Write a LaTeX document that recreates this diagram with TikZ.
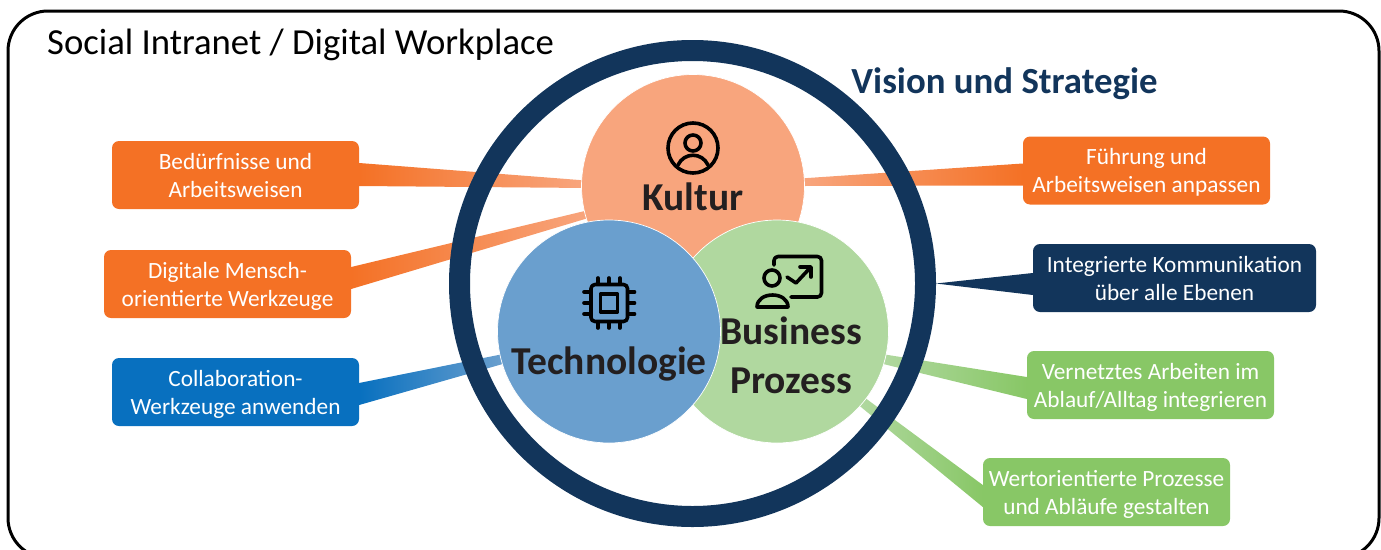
\documentclass[tikz,border=0pt]{standalone}
\usepackage{fontspec}
\setmainfont{Carlito}
\usetikzlibrary{calc, backgrounds}

\definecolor{navy}{HTML}{12355B}
\definecolor{orangebox}{HTML}{F47125}
\definecolor{orangesoft}{HTML}{F8A57D}
\definecolor{bluebox}{HTML}{0870BF}
\definecolor{bluesoft}{HTML}{6A9FCE}
\definecolor{greenbox}{HTML}{88C766}
\definecolor{greensoft}{HTML}{B0D89F}
\definecolor{inkdark}{HTML}{231F20}

\tikzset{
	box/.style={rectangle, rounded corners=7pt, minimum width=247pt, minimum height=68pt, inner sep=0pt,
		align=center, text=white, text depth=0pt, font=\fontsize{23.3}{28}\selectfont},
	topic/.style={circle, minimum size=223pt, inner sep=0pt, outer sep=0pt, draw=white, line width=0.7pt},
	topiclabel/.style={text=inkdark, align=center, font=\fontsize{39.5}{49}\selectfont\bfseries},
	icon/.style={draw=black, line width=3.6pt, line cap=round, line join=round}
}

\begin{document}
\begin{tikzpicture}
	[x=1pt, y=-1pt]
   \clip (0,0) rectangle (1381,549);
   \draw[line width=3pt, rounded corners=40pt] (8,11) rectangle (1379,558);

   \node[anchor=west, inner sep=0pt, font=\fontsize{36.7}{44}\selectfont] (title) at (47,45) {Social Intranet / Digital Workplace};
   \node[circle, draw=navy, line width=21pt, minimum size=466pt, inner sep=0pt] (ring) at (692.5,283.5) {};
   \node[text=navy, font=\fontsize{36.8}{44}\selectfont\bfseries] (vision) at (1004.5,84) {Vision und Strategie};

   \node[topic, fill=orangesoft] (kultur) at (693,186) {};
   \node[topic, fill=greensoft] (business) at (777,331.5) {};
   \node[topic, fill=bluesoft] (technologie) at (609,331.5) {};

   \node[topiclabel] (kulturlabel) at (693,197) {Kultur};
   \node[topiclabel] (businesslabel) at (791,355.5) {Business\\Prozess};
   \node[topiclabel] (technologielabel) at (609,364) {Technologie};

   \node[box, fill=orangebox] (beduerfnisse) at (235.5,175) {Bedürfnisse und\\Arbeitsweisen};
   \node[box, fill=orangebox] (digitale) at (227.5,284) {Digitale Mensch-\\orientierte Werkzeuge};
   \node[box, fill=bluebox] (collab) at (235.5,392) {Collaboration-\\Werkzeuge anwenden};
   \node[box, fill=orangebox] (fuehrung) at (1146.5,170.5) {Führung und\\Arbeitsweisen anpassen};
   \node[box, fill=navy, minimum width=283pt] (kommunikation) at (1174.5,278) {Integrierte Kommunikation\\über alle Ebenen};
   \node[box, fill=greenbox] (vernetzt) at (1150.5,385) {Vernetztes Arbeiten im\\Ablauf/Alltag integrieren};
   \node[box, fill=greenbox] (wert) at (1106.5,492) {Wertorientierte Prozesse\\und Abläufe gestalten};

   % tapered connectors
   \begin{scope}[on background layer]
    \path[left color=orangebox, right color=orangesoft]
    ($(beduerfnisse.east)+(0,-12)$) -- (kultur.177) -- (kultur.181) -- ($(beduerfnisse.east)+(0,11)$) -- cycle;
    \path[left color=orangebox, right color=orangesoft]
    ($(digitale.east)+(0,-17)$) -- (kultur.193.5) -- (kultur.197) -- ($(digitale.east)+(0,5)$) -- cycle;
    \path[left color=bluebox, right color=bluesoft]
    ($(collab.east)+(0,-9)$) -- (technologie.192) -- (technologie.197) -- ($(collab.east)+(0,13)$) -- cycle;
    \path[right color=orangebox, left color=orangesoft]
    ($(fuehrung.west)+(0,-7)$) -- (kultur.4) -- (kultur.0) -- ($(fuehrung.west)+(0,15)$) -- cycle;
    \path[fill=navy]
    ($(kommunikation.west)+(0,-5)$) -- (ring.east) -- ($(kommunikation.west)+(0,17)$) -- cycle;
    \path[right color=greenbox, left color=greensoft]
    ($(vernetzt.west)+(0,-8)$) -- (business.-12) -- (business.-17) -- ($(vernetzt.west)+(0,14)$) -- cycle;
    \path[right color=greenbox, left color=greensoft]
    ($(wert.west)+(0,-7)$) -- (business.-37) -- (business.-42) -- ($(wert.west)+(0,15)$) -- cycle;
   \end{scope}

   % person icon
   \draw[icon] (693,148) circle (25);
   \draw[icon] (693,143) circle (8);
   \draw[icon] (678,165) .. controls (684,152) and (702,152) .. (708,165);

   % chip icon
   \draw[icon, rounded corners=4pt] (591,284.5) rectangle (627.5,321.5);
   \draw[icon] (600.5,294) rectangle (617.5,312);
   \foreach \d in {-11,0,11} {
    \draw[icon] (609+\d,278) -- (609+\d,284);
    \draw[icon] (609+\d,322) -- (609+\d,328);
    \draw[icon] (584,303+\d) -- (591,303+\d);
    \draw[icon] (628,303+\d) -- (634.5,303+\d);
   }

   % presenter icon
   \draw[icon] (772,278) circle (8);
   \draw[icon] (757,307) .. controls (757,291) and (788,291) .. (788,307) -- cycle;
   \draw[icon, rounded corners=4pt] (774,265) -- (774,256.5) -- (821.5,256.5) -- (821.5,297) -- (791,297);
   \draw[icon] (787,277) -- (796,283) -- (810,268);
   \draw[icon] (800,267) -- (811,267) -- (811,277);
\end{tikzpicture}
\end{document}
